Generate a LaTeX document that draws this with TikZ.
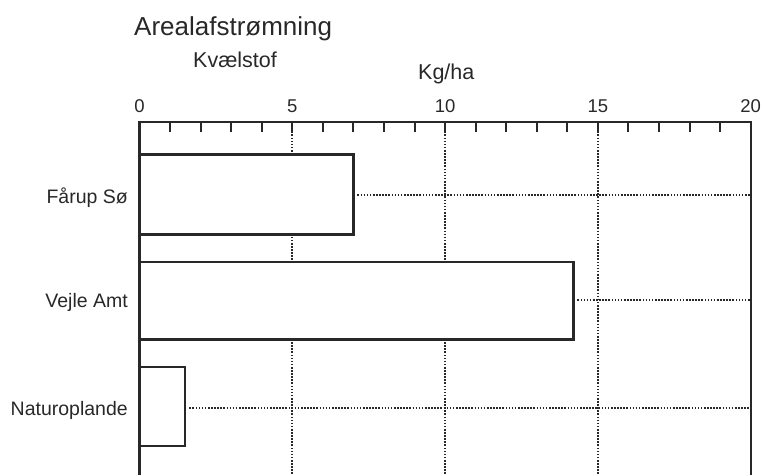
\documentclass[tikz,border=0pt]{standalone}
\usepackage{fontspec}
\setmainfont{Liberation Sans}
\definecolor{ink}{RGB}{40,40,40}
\begin{document}
\begin{tikzpicture}[x=1pt,y=-1pt,
  axisline/.style={draw=ink,line width=2.2pt},
  barbox/.style={draw=ink,line width=2.2pt,fill=white},
  gridline/.style={draw=ink,line width=1.8pt,dash pattern=on 1.6pt off 1.5pt},
  tickmark/.style={draw=ink,line width=2pt},
  txt/.style={inner sep=0pt,text=ink,anchor=base},
  ticklbl/.style={txt,font=\fontsize{18.5}{20}\selectfont},
  barlbl/.style={txt,anchor=base east,font=\fontsize{19.5}{22}\selectfont}]
\useasboundingbox (0,0) rectangle (764,475);
\def\ux{30.56}
% grid (dotted) verticals
\foreach \v in {5,10,15}{
  \draw[gridline] ({139.5+\v*\ux},122) -- ({139.5+\v*\ux},475);
}
% horizontal dotted lines from bar ends to right axis
\draw[gridline] ({139.5+7*\ux+4},195) -- (750.7,195);
\draw[gridline] ({139.5+14.2*\ux+4},300) -- (750.7,300);
\draw[gridline] ({139.5+1.5*\ux+4},408) -- (750.7,408);
% bars
\draw[barbox] (139.5,154.5) rectangle ({139.5+7*\ux},234.5);
\draw[barbox] (139.5,262) rectangle ({139.5+14.2*\ux},339.5);
\draw[barbox] (139.5,367) rectangle ({139.5+1.5*\ux},446);
% axes
\draw[axisline] (139.5,475) -- (139.5,122) -- (750.7,122) -- (750.7,475);
% ticks
\foreach \v in {1,...,19}{
  \draw[tickmark] ({139.5+\v*\ux},122) -- ({139.5+\v*\ux},132);
}
% tick labels
\foreach \v in {0,5,10,15,20}{
  \node[ticklbl] (t\v) at ({139.5+\v*\ux},112) {\v};
}
% titles
\node[txt,anchor=base west,font=\fontsize{26}{30}\selectfont] (title) at (134,35) {Arealafstrømning};
\node[txt,anchor=base west,font=\fontsize{21.5}{24}\selectfont] (sub) at (193,67) {Kvælstof};
\node[txt,anchor=base west,font=\fontsize{21.5}{24}\selectfont] (unit) at (418,79) {Kg/ha};
% bar labels
\node[barlbl] (l1) at (128,203) {Fårup Sø};
\node[barlbl] (l2) at (128,307) {Vejle Amt};
\node[barlbl] (l3) at (128,415) {Naturoplande};
\end{tikzpicture}
\end{document}
